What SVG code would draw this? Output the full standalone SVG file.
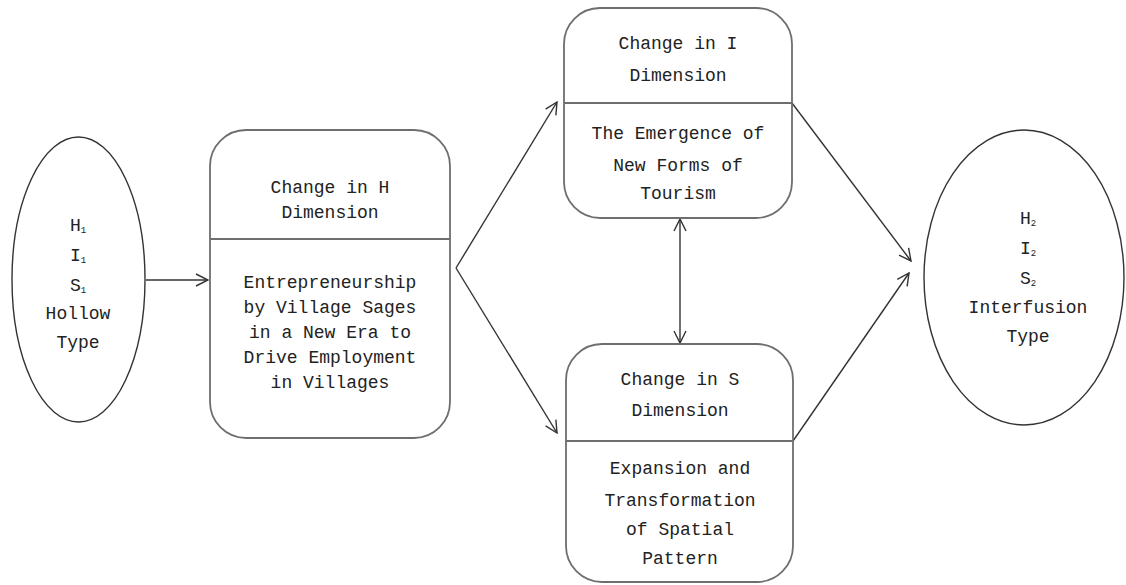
<svg xmlns="http://www.w3.org/2000/svg" width="1126" height="585" viewBox="0 0 1126 585">
  <style>
    .box { fill: #ffffff; stroke: #6e6e6e; stroke-width: 1.8; }
    .div { stroke: #6e6e6e; stroke-width: 1.8; }
    .oval { fill: #ffffff; stroke: #333333; stroke-width: 1.4; }
    .conn { fill: none; stroke: #333333; stroke-width: 1.4; }
    text { font-family: "Liberation Mono", "DejaVu Sans Mono", monospace; font-size: 18px; fill: #222222; text-anchor: middle; }
    .sub { font-size: 9px; }
  </style>
  <defs>
    <!-- open V arrowhead shared by all connectors -->
    <marker id="arrow" viewBox="0 0 14 14" refX="13" refY="7" markerWidth="14" markerHeight="14" markerUnits="userSpaceOnUse" orient="auto-start-reverse">
      <path d="M1,1 L13,7 L1,13" fill="none" stroke="#333333" stroke-width="1.4"/>
    </marker>
  </defs>

  <g id="connectors">
    <path class="conn" d="M146,280 L208,280" marker-end="url(#arrow)"/>
    <path class="conn" d="M456,268 L557,102" marker-end="url(#arrow)"/>
    <path class="conn" d="M456,268 L557,433" marker-end="url(#arrow)"/>
    <path class="conn" d="M680,219 L680,343" marker-start="url(#arrow)" marker-end="url(#arrow)"/>
    <path class="conn" d="M792,103 L911,261" marker-end="url(#arrow)"/>
    <path class="conn" d="M793,441 L909,273" marker-end="url(#arrow)"/>
  </g>

  <g id="start-state">
    <ellipse class="oval" cx="78.5" cy="279.5" rx="66.5" ry="142.5"/>
    <text x="78" y="231">H<tspan class="sub" dy="2">1</tspan></text>
    <text x="78" y="261">I<tspan class="sub" dy="2">1</tspan></text>
    <text x="78" y="291">S<tspan class="sub" dy="2">1</tspan></text>
    <text x="78" y="319">Hollow</text>
    <text x="78" y="348">Type</text>
  </g>

  <g id="h-dimension">
    <rect class="box" x="210" y="130" width="240" height="308" rx="36" ry="36"/>
    <line class="div" x1="210" y1="239" x2="450" y2="239"/>
    <text x="330" y="193">Change in H</text>
    <text x="330" y="218">Dimension</text>
    <text x="330" y="288">Entrepreneurship</text>
    <text x="330" y="313">by Village Sages</text>
    <text x="330" y="338">in a New Era to</text>
    <text x="330" y="363">Drive Employment</text>
    <text x="330" y="388">in Villages</text>
  </g>

  <g id="i-dimension">
    <rect class="box" x="564" y="8" width="228" height="210" rx="36" ry="36"/>
    <line class="div" x1="564" y1="103" x2="792" y2="103"/>
    <text x="678" y="49">Change in I</text>
    <text x="678" y="81">Dimension</text>
    <text x="678" y="139">The Emergence of</text>
    <text x="678" y="171">New Forms of</text>
    <text x="678" y="199">Tourism</text>
  </g>

  <g id="s-dimension">
    <rect class="box" x="566" y="344" width="227" height="238" rx="36" ry="36"/>
    <line class="div" x1="566" y1="441" x2="793" y2="441"/>
    <text x="680" y="385">Change in S</text>
    <text x="680" y="416">Dimension</text>
    <text x="680" y="474">Expansion and</text>
    <text x="680" y="506">Transformation</text>
    <text x="680" y="535">of Spatial</text>
    <text x="680" y="564">Pattern</text>
  </g>

  <g id="end-state">
    <ellipse class="oval" cx="1024" cy="277.5" rx="100" ry="147.5"/>
    <text x="1028" y="224">H<tspan class="sub" dy="2">2</tspan></text>
    <text x="1028" y="254">I<tspan class="sub" dy="2">2</tspan></text>
    <text x="1028" y="284">S<tspan class="sub" dy="2">2</tspan></text>
    <text x="1028" y="313">Interfusion</text>
    <text x="1028" y="342">Type</text>
  </g>
</svg>
